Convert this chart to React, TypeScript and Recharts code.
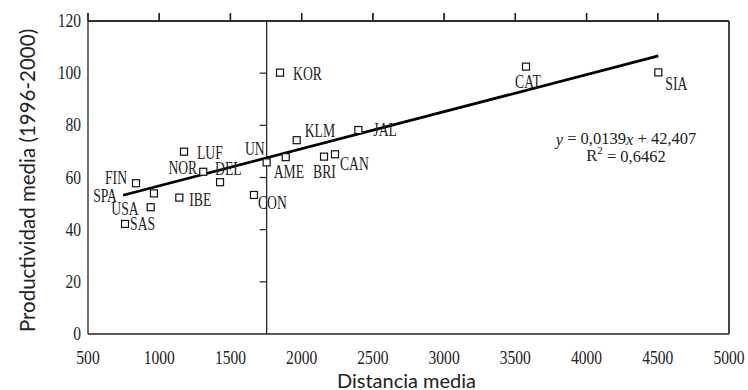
import React from 'react';
import { ComposedChart, XAxis, YAxis, Scatter, ReferenceLine } from 'recharts';

// ---- data ----
const CATEGORIES = ['FIN', 'SPA', 'USA', 'SAS', 'LUF', 'NOR', 'DEL', 'IBE', 'CON', 'UN', 'AME', 'KLM', 'KOR', 'BRI', 'CAN', 'JAL', 'CAT', 'SIA'];
const DISTANCE = [837, 963, 940, 760, 1174, 1309, 1427, 1141, 1665, 1754, 1888, 1965, 1848, 2157, 2234, 2398, 3575, 4504];
const PRODUCTIVITY = [57.8, 53.9, 48.6, 42.2, 69.9, 62.2, 58.2, 52.3, 53.3, 65.8, 67.8, 74.3, 100.2, 68.0, 68.9, 78.2, 102.5, 100.3];

const TREND_X = [746, 4504];
const TREND_Y = [53.2, 106.6];

const MEAN_DISTANCE = 1754;

const X_MIN = 500;
const X_MAX = 5000;
const Y_MIN = 0;
const Y_MAX = 120;

const X_TICKS = [500, 1000, 1500, 2000, 2500, 3000, 3500, 4000, 4500, 5000];
const TOP_TICKS = [500, 1000, 1500, 2000, 2500, 3000, 3500, 4000, 4500];
const Y_TICKS = [0, 20, 40, 60, 80, 100, 120];
const CROSS_TICKS = [20, 40, 60, 80, 100];

const EQUATION_TEXT = ['0,0139', '42,407'];
const R2_TEXT = '0,6462';
const EQ_POS = { x: 4277, y: 74.4 };

const X_TITLE = 'Distancia media';
const Y_TITLE = 'Productividad media (1996-2000)';

// label placement (style only)
const LABEL_PLACEMENT: Record<string, { dx: number; dy: number; anchor: string }> = {
  FIN: { dx: -9, dy: -5, anchor: 'end' },
  SPA: { dx: -37, dy: 2, anchor: 'end' },
  USA: { dx: -12, dy: 2, anchor: 'end' },
  SAS: { dx: 5, dy: 0, anchor: 'start' },
  LUF: { dx: 13, dy: 1, anchor: 'start' },
  NOR: { dx: -6, dy: -4, anchor: 'end' },
  DEL: { dx: -5, dy: -13, anchor: 'start' },
  IBE: { dx: 10, dy: 2, anchor: 'start' },
  CON: { dx: 4, dy: 8, anchor: 'start' },
  UN: { dx: -2, dy: -14, anchor: 'end' },
  AME: { dx: -12, dy: 15, anchor: 'start' },
  KLM: { dx: 8, dy: -9, anchor: 'start' },
  KOR: { dx: 13, dy: 1, anchor: 'start' },
  BRI: { dx: -11, dy: 15, anchor: 'start' },
  CAN: { dx: 5, dy: 10, anchor: 'start' },
  JAL: { dx: 15, dy: 0, anchor: 'start' },
  CAT: { dx: 2, dy: 15, anchor: 'middle' },
  SIA: { dx: 7, dy: 11, anchor: 'start' },
};

const POINTS = CATEGORIES.map((name, i) => ({ name, x: DISTANCE[i], y: PRODUCTIVITY[i] }));
const TREND = TREND_X.map((x, i) => ({ x, y: TREND_Y[i] }));
const CROSS = CROSS_TICKS.map((y) => ({ x: MEAN_DISTANCE, y }));
const TOP = TOP_TICKS.map((x) => ({ x, y: Y_MAX }));
const EQ = [EQ_POS];

const SERIF = "'Liberation Serif', 'Times New Roman', serif";
const SANS = "Lato, 'Open Sans', sans-serif";
const INK = '#222';

function CText(props: any) {
  const { x, y, anchor = 'start', size = 18, sx = 0.76, children } = props;
  return (
    <text
      transform={`translate(${x} ${y}) scale(${sx} 1)`}
      textAnchor={anchor}
      dominantBaseline="central"
      fontFamily={SERIF}
      fontSize={size}
      fill={INK}
    >
      {children}
    </text>
  );
}

function XTick(props: any) {
  const { x, y, payload } = props;
  return <CText x={x} y={y + 24} anchor="middle" size={19} sx={0.82}>{payload.value}</CText>;
}

function YTick(props: any) {
  const { x, y, payload } = props;
  return <CText x={x - 7} y={y} anchor="end" size={19} sx={0.82}>{payload.value}</CText>;
}

const EmptyTick = () => <g />;

function PointMark(props: any) {
  const { cx, cy, payload } = props;
  const p = LABEL_PLACEMENT[payload.name] || { dx: 8, dy: 0, anchor: 'start' };
  return (
    <g>
      <rect x={cx - 3.5} y={cy - 3.5} width={7} height={7} fill="#fff" stroke="#111" strokeWidth={1.2} />
      <CText x={cx + p.dx} y={cy + p.dy} anchor={p.anchor}>{payload.name}</CText>
    </g>
  );
}

function CrossTick(props: any) {
  const { cx, cy } = props;
  return <line x1={cx - 7} x2={cx} y1={cy} y2={cy} stroke={INK} strokeWidth={1.2} />;
}

function TopTick(props: any) {
  const { cx, cy } = props;
  return <line x1={cx} x2={cx} y1={cy - 8} y2={cy} stroke={INK} strokeWidth={1.4} />;
}

function EqMark(props: any) {
  const { cx, cy } = props;
  return (
    <g fontFamily={SERIF} fontSize={16.5} fill={INK} textAnchor="middle">
      <text x={cx} y={cy - 1} dominantBaseline="central">
        <tspan fontStyle="italic">y</tspan>
        {` = ${EQUATION_TEXT[0]}`}
        <tspan fontStyle="italic">x</tspan>
        {` + ${EQUATION_TEXT[1]}`}
      </text>
      <text x={cx} y={cy + 16} dominantBaseline="central">
        R<tspan dy={-6} fontSize={11}>2</tspan>
        <tspan dy={6}>{` = ${R2_TEXT}`}</tspan>
      </text>
    </g>
  );
}

const noShape = () => <g />;

export default function App() {
  return (
    <div style={{ position: 'absolute', left: 0, top: 0, width: 748, height: 390, background: '#fff' }}>
      <ComposedChart width={748} height={390} margin={{ top: 20, right: 18, bottom: 0, left: 0 }}>
        <XAxis
          xAxisId="b"
          type="number"
          dataKey="x"
          domain={[X_MIN, X_MAX]}
          ticks={X_TICKS}
          interval={0}
          orientation="bottom"
          height={56}
          tickLine={false}
          tickSize={0}
          tickMargin={0}
          axisLine={{ stroke: INK, strokeWidth: 1.3 }}
          tick={<XTick />}
          label={(p: any) => {
            const vb = p.viewBox;
            return (
              <text x={vb.x + vb.width / 2 - 2} y={vb.y + 54} textAnchor="middle" fontFamily={SANS} fontSize={20} fill={INK}>
                {X_TITLE}
              </text>
            );
          }}
        />
        <XAxis
          xAxisId="t"
          type="number"
          dataKey="x"
          domain={[X_MIN, X_MAX]}
          ticks={TOP_TICKS}
          interval={0}
          orientation="top"
          height={1}
          tick={<EmptyTick />}
          tickSize={8}
          tickMargin={0}
          tickLine={{ stroke: INK, strokeWidth: 1.3 }}
          axisLine={{ stroke: INK, strokeWidth: 1.3 }}
        />
        <YAxis
          yAxisId="l"
          type="number"
          dataKey="y"
          domain={[Y_MIN, Y_MAX]}
          ticks={Y_TICKS}
          interval={0}
          width={88}
          tickLine={false}
          tickSize={0}
          tickMargin={0}
          axisLine={{ stroke: INK, strokeWidth: 1.3 }}
          tick={<YTick />}
          label={(p: any) => {
            const vb = p.viewBox;
            const cx = 27;
            const cy = vb.y + vb.height / 2 + 3;
            return (
              <text
                x={cx}
                y={cy}
                transform={`rotate(-90 ${cx} ${cy})`}
                textAnchor="middle"
                dominantBaseline="central"
                fontFamily={SANS}
                fontSize={20.5}
                fill={INK}
              >
                {Y_TITLE}
              </text>
            );
          }}
        />
        <YAxis
          yAxisId="r"
          type="number"
          dataKey="y"
          orientation="right"
          domain={[Y_MIN, Y_MAX]}
          ticks={Y_TICKS}
          width={1}
          tickLine={false}
          tick={<EmptyTick />}
          axisLine={{ stroke: '#444', strokeWidth: 1.8 }}
        />
        <ReferenceLine xAxisId="b" yAxisId="l" y={Y_MAX} stroke={INK} strokeWidth={1.3} ifOverflow="visible" />
        <ReferenceLine xAxisId="b" yAxisId="l" x={X_MAX} stroke="#444" strokeWidth={1.8} ifOverflow="visible" />
        <ReferenceLine xAxisId="b" yAxisId="l" x={MEAN_DISTANCE} stroke={INK} strokeWidth={1.3} ifOverflow="visible" />
        <Scatter xAxisId="t" yAxisId="r" data={TOP} shape={<TopTick />} isAnimationActive={false} />
        <Scatter xAxisId="b" yAxisId="l" data={CROSS} shape={<CrossTick />} isAnimationActive={false} />
        <Scatter
          xAxisId="b"
          yAxisId="l"
          data={TREND}
          line={{ stroke: '#000', strokeWidth: 2.8 }}
          shape={noShape}
          isAnimationActive={false}
        />
        <Scatter xAxisId="b" yAxisId="l" data={POINTS} shape={<PointMark />} isAnimationActive={false} />
        <Scatter xAxisId="b" yAxisId="l" data={EQ} shape={<EqMark />} isAnimationActive={false} />
      </ComposedChart>
    </div>
  );
}
